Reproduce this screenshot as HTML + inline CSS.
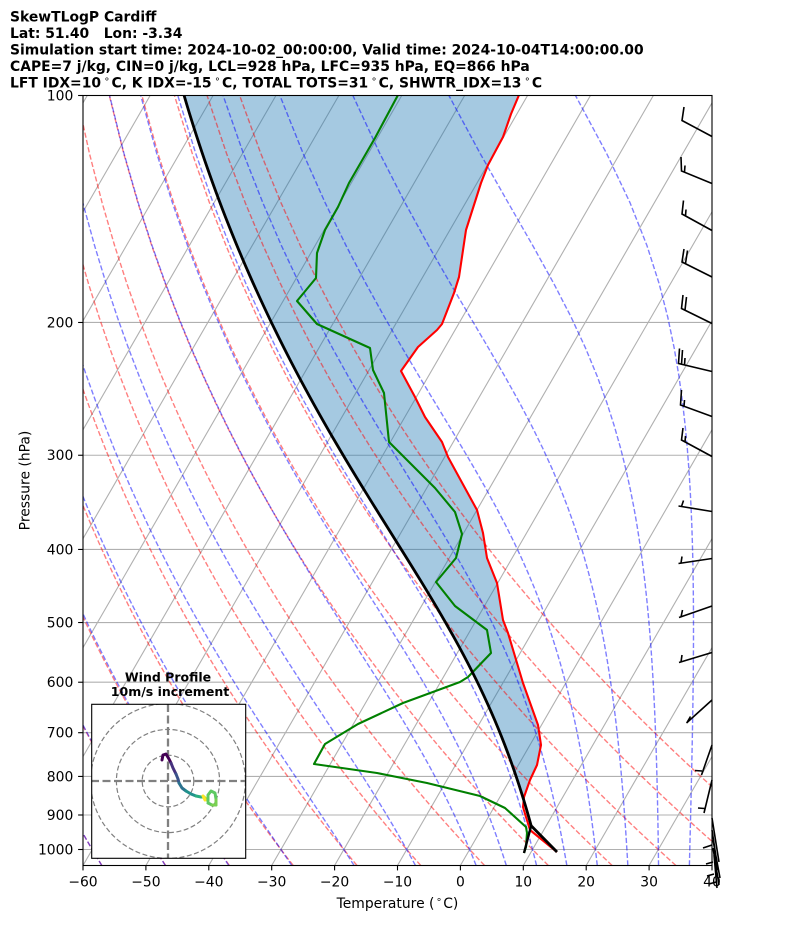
<!DOCTYPE html>
<html><head><meta charset="utf-8"><style>
html,body{margin:0;padding:0;background:#fff;}
svg{display:block;}
text{font-family:"DejaVu Sans","Liberation Sans",sans-serif;fill:#000;}
</style></head><body>
<svg id="s" width="794" height="937" viewBox="0 0 794 937" xmlns="http://www.w3.org/2000/svg">
<defs>
<clipPath id="ax"><rect x="83" y="95.5" width="629" height="770"/></clipPath>
<clipPath id="hb"><rect x="91.7" y="704.3" width="154" height="154"/></clipPath>
</defs>
<rect width="794" height="937" fill="#fff"/>

<g clip-path="url(#ax)">
  <path id="grid" d="" stroke="#b0b0b0" stroke-width="1.1" fill="none"/>
  <polygon id="fillp" fill="#1f77b4" fill-opacity="0.4" points="182.5,90 184,95 200,147 217,200 237,247 253,283 270,313 285,343 296,370 326,420 367,490 408,560 431,600 443,620 472,670 497,727 512,760 520,790 523.5,800 524,797 530,780 537,765 541,745 538,725 523,683 508,633 503,620 497,583 487,558 483,533 477,510 448,457 442,442 425,417 415,397 401,371 418,347 437,330 442,324 454,293 459,277 466,230 481,183 488,165 503,137 511,114 519,95 521.5,90"/>
  <path id="dry" d="" stroke="#ff0000" stroke-opacity="0.5" stroke-width="1.4" fill="none" stroke-dasharray="5.2,2.3"/>
  <path id="moist" d="" stroke="#0000ff" stroke-opacity="0.5" stroke-width="1.4" fill="none" stroke-dasharray="5.2,2.3"/>
  <polyline fill="none" stroke="#ff0000" stroke-width="2.1" stroke-linejoin="round" points="519,95 511,114 503,137 488,165 481,183 466,230 459,277 454,293 442,324 437,330 418,347 401,371 415,397 425,417 442,442 448,457 477,510 483,533 487,558 497,583 503,620 508,633 523,683 538,725 541,745 537,765 530,780 524,797 523,807 526,817 530,830 557,852"/>
  <polyline fill="none" stroke="#008000" stroke-width="2.1" stroke-linejoin="round" points="398,95 375,138 349,183 338,207 325,230 317,253 316,278 297,301 317,324 370,348 373,370 384,393 389,442 435,488 455,512 462,534 456,558 436,582 455,606 487,630 491,653 468,677 460,682 403,703 358,724 325,744 314,764 377,773 427,783 480,796 505,808 526,827 527,833 526,847 524,853"/>
  <polyline id="parcel" fill="none" stroke="#000" stroke-width="2.8" stroke-linejoin="round" points="184,95 200,147 217,200 237,247 253,283 270,313 285,343 296,370 326,420 367,490 408,560 431,600 443,620 472,670 497,727 512,760 520,790 525,813 530,827 557,852"/>
  <line id="dline" x1="524" y1="853" x2="531" y2="828" stroke="#000" stroke-width="2.4"/>
</g>

<!-- axes frame -->
<rect x="83" y="95.5" width="629" height="770" fill="none" stroke="#000" stroke-width="1.1"/>

<!-- y ticks -->
<g stroke="#000" stroke-width="1.1" id="yt"></g>
<g font-size="13.9" text-anchor="end" id="ytl"></g>
<!-- x ticks -->
<g stroke="#000" stroke-width="1.1">
  <line x1="83" y1="865.5" x2="83" y2="870.4"/><line x1="145.9" y1="865.5" x2="145.9" y2="870.4"/>
  <line x1="208.8" y1="865.5" x2="208.8" y2="870.4"/><line x1="271.7" y1="865.5" x2="271.7" y2="870.4"/>
  <line x1="334.6" y1="865.5" x2="334.6" y2="870.4"/><line x1="397.5" y1="865.5" x2="397.5" y2="870.4"/>
  <line x1="460.4" y1="865.5" x2="460.4" y2="870.4"/><line x1="523.3" y1="865.5" x2="523.3" y2="870.4"/>
  <line x1="586.2" y1="865.5" x2="586.2" y2="870.4"/><line x1="649.1" y1="865.5" x2="649.1" y2="870.4"/>
  <line x1="712" y1="865.5" x2="712" y2="870.4"/>
</g>
<g font-size="13.9" text-anchor="middle">
  <text x="83" y="886.5">−60</text><text x="145.9" y="886.5">−50</text>
  <text x="208.8" y="886.5">−40</text><text x="271.7" y="886.5">−30</text>
  <text x="334.6" y="886.5">−20</text><text x="397.5" y="886.5">−10</text>
  <text x="460.4" y="886.5">0</text><text x="523.3" y="886.5">10</text>
  <text x="586.2" y="886.5">20</text><text x="649.1" y="886.5">30</text>
  <text x="712" y="886.5">40</text>
</g>
<text x="397.5" y="908" font-size="13.9" text-anchor="middle">Temperature (<tspan font-size="9.7" dy="-5.5" dx="1.5">∘</tspan><tspan dy="5.5" dx="1.2">C)</tspan></text>
<text transform="translate(29.5,480.5) rotate(-90)" font-size="13.9" text-anchor="middle">Pressure (hPa)</text>

<!-- Title -->
<g font-size="13.9" font-weight="bold" style="white-space:pre">
  <text x="10" y="21.7">SkewTLogP Cardiff</text>
  <text x="10" y="38" xml:space="preserve">Lat: 51.40   Lon: -3.34</text>
  <text x="10" y="54.5">Simulation start time: 2024-10-02_00:00:00, Valid time: 2024-10-04T14:00:00.00</text>
  <text x="10" y="71">CAPE=7 j/kg, CIN=0 j/kg, LCL=928 hPa, LFC=935 hPa, EQ=866 hPa</text>
  <text x="10" y="87.3">LFT IDX=10<tspan font-weight="normal" font-size="9.7" dy="-5.5" dx="2.8">∘</tspan><tspan dy="5.5" dx="1.6">C, K IDX=-15</tspan><tspan font-weight="normal" font-size="9.7" dy="-5.5" dx="2.8">∘</tspan><tspan dy="5.5" dx="1.6">C, TOTAL TOTS=31</tspan><tspan font-weight="normal" font-size="9.7" dy="-5.5" dx="2.8">∘</tspan><tspan dy="5.5" dx="1.6">C, SHWTR_IDX=13</tspan><tspan font-weight="normal" font-size="9.7" dy="-5.5" dx="2.8">∘</tspan><tspan dy="5.5" dx="1.6">C</tspan></text>
</g>

<!-- Wind barbs -->
<g stroke="#000" stroke-width="1.6" fill="none" stroke-linecap="butt">
  <path d="M712 136.5L682 120.5L684 107"/>
  <path d="M712 183.5L681.5 171L681 157M684.5 172L685 165.5"/>
  <path d="M712 230.5L682 214L683.5 200.5M685.5 216L686 209.5"/>
  <path d="M712 277L682 262L684 249M685.5 263.5L687.5 250.5"/>
  <path d="M712 323.5L681.5 308.5L683 295M685 310L686.5 297"/>
  <path d="M712 371.5L678.5 363.5L679.5 348.5M681.5 364.5L682.5 350M684.5 365L685 358"/>
  <path d="M712 416.5L680.5 405L681.5 390M684 406.5L684.5 400"/>
  <path d="M712 456.5L681.5 440L683 428M685 442L685.5 436"/>
  <path d="M712 511.5L678.5 506M681.5 506.5L683.5 500.5"/>
  <path d="M712 558.5L678.5 563.5M681 563L682 556.5"/>
  <path d="M712 606L679 617.5M681 617L682.5 610"/>
  <path d="M712 652.5L679 662.5M681 662L682 655"/>
  <path d="M712 700L686.5 723M687 722.5L690.5 716.5"/>
  <path d="M712 745L701.5 775M702 771L695 770.5"/>
  <path d="M712 780L704 813M704.5 808.5L698 808"/>
  <path d="M712 818L719 862M712 830L718 870M713 840L720 878M713 848L719 885M714 855L717 888"/>
  <path d="M703 848L712 845M706 864L713 862M707 876L714 874M709 884L716 882"/>
</g>

<!-- Hodograph inset -->
<text x="168" y="681.7" font-size="12.5" font-weight="bold" text-anchor="middle">Wind Profile</text>
<text x="170" y="696" font-size="12.5" font-weight="bold" text-anchor="middle">10m/s increment</text>
<rect x="91.7" y="704.3" width="154" height="154" fill="#fff"/>
<g clip-path="url(#hb)" fill="none">
  <g stroke="#808080" stroke-width="1.2" stroke-dasharray="5,2.5">
    <circle cx="168" cy="781" r="25.8"/>
    <circle cx="168" cy="781" r="51.6"/>
    <circle cx="168" cy="781" r="77.4"/>
  </g>
  <g stroke="#808080" stroke-width="2.3" stroke-dasharray="8,3.5">
    <line x1="168" y1="704" x2="168" y2="859"/>
    <line x1="91" y1="781" x2="246" y2="781"/>
  </g>
  <g stroke-width="3" stroke-linecap="round" stroke-linejoin="round">
    <polyline stroke="#440154" points="162,760 163,755 166,754 169,759 171,763"/>
    <polyline stroke="#46317e" points="171,763 173,768 176,774"/>
    <polyline stroke="#3b528b" points="176,774 178,779 179,783"/>
    <polyline stroke="#2c728e" points="179,783 182,788 186,791"/>
    <polyline stroke="#21918c" points="186,791 191,794 196,796"/>
    <polyline stroke="#28ae80" points="196,796 201,797 204,797"/>
    <polyline stroke="#d2e21b" points="204,797 206,799 208,801"/>
    <polyline stroke="#fde725" points="203,796 205,800"/>
    <polyline stroke="#5ec962" points="208,801 208,795 211,791 215,793 216,799 216,805 212,805 208,803"/>
    <polyline stroke="#7ad151" points="212,805 216,805 216,800"/>
  </g>
</g>
<rect x="91.7" y="704.3" width="154" height="154" fill="none" stroke="#000" stroke-width="1.1"/>
</svg>
<script>
(function(){
var Y=function(p){return 95.5+754*(Math.log(p)/Math.LN10-2);};
var X=function(T,p){return 83+(T+60)*6.29+0.57735*(865.5-Y(p));};
var P=[];for(var i=0;i<50;i++)P.push(1050-i*950/49);
var gd='';
for(var T=-150;T<=40;T+=10){var xb=83+(T+60)*6.29;gd+='M'+xb.toFixed(2)+' 865.5L'+(xb+0.57735*770).toFixed(2)+' 95.5';}
for(var p=100;p<=1000;p+=100){var y=Y(p);gd+='M83 '+y.toFixed(2)+'L712 '+y.toFixed(2);}
document.getElementById('grid').setAttribute('d',gd);
var NS='http://www.w3.org/2000/svg';
var ytg=document.getElementById('yt'), ytlg=document.getElementById('ytl');
for(var p=100;p<=1000;p+=100){var y=Y(p);
 var l=document.createElementNS(NS,'line');l.setAttribute('x1','78.1');l.setAttribute('x2','83');l.setAttribute('y1',y);l.setAttribute('y2',y);ytg.appendChild(l);
 var t=document.createElementNS(NS,'text');t.setAttribute('x','73.3');t.setAttribute('y',y+5);t.textContent=String(p);ytlg.appendChild(t);}
var dd='';
for(var t0=-60;t0<=50;t0+=10){var th=t0+273.15;for(var i=0;i<P.length;i++){var T=th*Math.pow(P[i]/1000,0.28571)-273.15;dd+=(i?'L':'M')+X(T,P[i]).toFixed(2)+' '+Y(P[i]).toFixed(2);}}
document.getElementById('dry').setAttribute('d',dd);
function es(Tc){return 6.112*Math.exp(17.67*Tc/(Tc+243.5));}
function f(p,T){var Rd=287.04749,Cp=1004.6662,Lv=2.50084e6,eps=0.621957;var e=es(T-273.15);var rs=eps*e/(p-e);return (Rd*T+Lv*rs)/(Cp+Lv*Lv*rs*eps/(Rd*T*T))/p;}
function integ(T,p0,p1){var n=40,h=(p1-p0)/n,p=p0;for(var k=0;k<n;k++){var k1=f(p,T),k2=f(p+h/2,T+h*k1/2),k3=f(p+h/2,T+h*k2/2),k4=f(p+h,T+h*k3);T+=h*(k1+2*k2+2*k3+k4)/6;p+=h;}return T;}
var md='';var t0s=[];for(var t=-60;t<0;t+=10)t0s.push(t);for(var t=0;t<=60;t+=5)t0s.push(t);
t0s.forEach(function(t0){
 var Ts=new Array(P.length);var Tk=t0+273.15;var T=Tk,pc=1000;
 for(var i=2;i>=0;i--){T=integ(T,pc,P[i]);pc=P[i];Ts[i]=T;}
 T=Tk;pc=1000;
 for(var i=3;i<P.length;i++){T=integ(T,pc,P[i]);pc=P[i];Ts[i]=T;}
 for(var i=0;i<P.length;i++){if(!isFinite(Ts[i]))break;md+=(i?'L':'M')+X(Ts[i]-273.15,P[i]).toFixed(2)+' '+Y(P[i]).toFixed(2);}
});
document.getElementById('moist').setAttribute('d',md);
// parcel profile
try{
var pL=930, TLc=7.6;
var parc=[[557,852],[X(TLc,pL),Y(pL)]];
var T=TLc+273.15,pc=pL;
for(var k=1;k<=90;k++){var p=pL*Math.pow(100/pL,k/90);T=integ(T,pc,p);pc=p;if(!isFinite(T))throw 'x';parc.push([X(T-273.15,p),Y(p)]);}
var top=parc[parc.length-1];
if(Math.abs(top[0]-184)<25){
 var s='';parc.forEach(function(q){s+=q[0].toFixed(2)+','+q[1].toFixed(2)+' ';});
 document.getElementById('parcel').setAttribute('points',s);
 var dl=document.getElementById('dline');dl.setAttribute('x2',parc[1][0].toFixed(2));dl.setAttribute('y2',parc[1][1].toFixed(2));
 var red=[[519,95],[511,114],[503,137],[488,165],[481,183],[466,230],[459,277],[454,293],[442,324],[437,330],[418,347],[401,371],[415,397],[425,417],[442,442],[448,457],[477,510],[483,533],[487,558],[497,583],[503,620],[508,633],[523,683],[538,725],[541,745],[537,765],[530,780],[524,797]];
 var fp=[[top[0]-1.5,90]];
 for(var i=parc.length-1;i>=1;i--){if(parc[i][1]>800)break;fp.push(parc[i]);}
 fp.push([523.5,800]);
 for(var i=red.length-1;i>=0;i--)fp.push(red[i]);
 fp.push([521.5,90]);
 var s2='';fp.forEach(function(q){s2+=q[0].toFixed(2)+','+q[1].toFixed(2)+' ';});
 document.getElementById('fillp').setAttribute('points',s2);
}
}catch(e){}
})();
</script>
</body></html>
